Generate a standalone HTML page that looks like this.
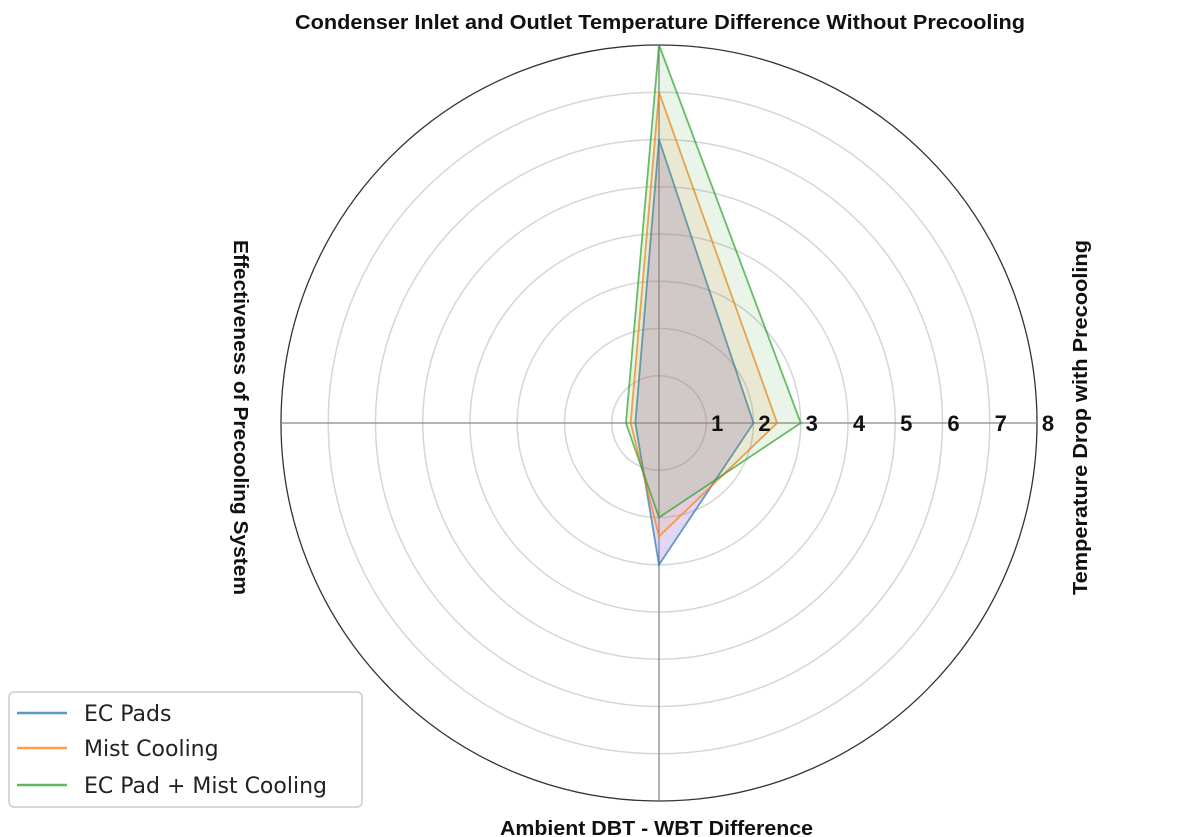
<!DOCTYPE html>
<html><head><meta charset="utf-8">
<style>
html,body{margin:0;padding:0;background:#fff;}
svg{display:block;}
</style></head>
<body>
<svg id="chart" width="1200" height="837" viewBox="0 0 1200 837" xmlns="http://www.w3.org/2000/svg">
<g id="grid"></g>
<g id="series"></g>
<g id="ticks"></g>
<text x="295" y="29" textLength="730" lengthAdjust="spacingAndGlyphs" font-family="Liberation Sans, sans-serif" font-weight="bold" font-size="20" fill="#111">Condenser Inlet and Outlet Temperature Difference Without Precooling</text>
<text x="500" y="835" textLength="313" lengthAdjust="spacingAndGlyphs" font-family="Liberation Sans, sans-serif" font-weight="bold" font-size="20" fill="#111">Ambient DBT - WBT Difference</text>
<text transform="translate(1087,595) rotate(-90)" textLength="355" lengthAdjust="spacingAndGlyphs" font-family="Liberation Sans, sans-serif" font-weight="bold" font-size="20" fill="#111">Temperature Drop with Precooling</text>
<text transform="translate(234,240) rotate(90)" textLength="355" lengthAdjust="spacingAndGlyphs" font-family="Liberation Sans, sans-serif" font-weight="bold" font-size="20" fill="#111">Effectiveness of Precooling System</text>
<g>
<rect x="9" y="692" width="353" height="115" rx="5" fill="#fff" stroke="#ccc" stroke-width="1.5"/>
<g><line x1="17" y1="713" x2="67" y2="713" stroke="#1f77b4" stroke-width="2.5" opacity="0.75"/><text x="84" y="721" font-family="DejaVu Sans, sans-serif" font-size="22" fill="#222">EC Pads</text></g>
<g><line x1="17" y1="748" x2="67" y2="748" stroke="#ff7f0e" stroke-width="2.5" opacity="0.75"/><text x="84" y="756" font-family="DejaVu Sans, sans-serif" font-size="22" fill="#222">Mist Cooling</text></g>
<g><line x1="17" y1="785" x2="67" y2="785" stroke="#2ca02c" stroke-width="2.5" opacity="0.75"/><text x="84" y="793" font-family="DejaVu Sans, sans-serif" font-size="22" fill="#222">EC Pad + Mist Cooling</text></g>
</g>
</svg>
<script>
// order: top, right, bottom, left
const axes = ["Condenser Diff", "Temp Drop", "DBT-WBT", "Effectiveness"];
const ecPads = [6.0, 2.0, 3.0, 0.5];
const mistCooling = [7.0, 2.5, 2.4, 0.6];
const ecMist = [8.0, 3.0, 2.0, 0.7];
const tickLabels = ["1","2","3","4","5","6","7","8"];
const seriesNames = ["ec-pads","mist-cooling","ec-pad-mist"];

const NS = "http://www.w3.org/2000/svg";
const cx = 659, cy = 423, R = 378, maxV = 8;
function r(v){ return v / maxV * R; }
function pt(i, v){
  const ang = -Math.PI/2 + i * Math.PI/2;
  return [cx + r(v)*Math.cos(ang), cy + r(v)*Math.sin(ang)];
}
const grid = document.getElementById('grid');
for (let k = 1; k <= maxV; k++) {
  const c = document.createElementNS(NS, 'circle');
  c.setAttribute('cx', cx); c.setAttribute('cy', cy); c.setAttribute('r', r(k));
  c.setAttribute('fill', 'none');
  c.setAttribute('stroke', k === maxV ? '#333' : '#d6d6d6');
  c.setAttribute('stroke-width', k === maxV ? 1.3 : 1.5);
  
  
  grid.appendChild(c);
}
for (let i = 0; i < axes.length; i++) {
  const [x, y] = pt(i, maxV);
  const l = document.createElementNS(NS, 'line');
  l.setAttribute('x1', cx); l.setAttribute('y1', cy); l.setAttribute('x2', x); l.setAttribute('y2', y);
  l.setAttribute('stroke', '#888'); l.setAttribute('stroke-width', 1.3);
  
  
  grid.appendChild(l);
}
const colors = ["#1f77b4", "#ff7f0e", "#2ca02c"];
const fills = ["rgba(150,110,210,0.28)", "rgba(255,140,60,0.12)", "rgba(44,160,44,0.10)"];
const data = [ecPads, mistCooling, ecMist];
const sg = document.getElementById('series');
data.forEach((vals, s) => {
  const pts = vals.map((v, i) => pt(i, v).join(',')).join(' ');
  const p = document.createElementNS(NS, 'polygon');
  p.setAttribute('points', pts);
  p.setAttribute('fill', fills[s]);
  p.setAttribute('stroke', colors[s]);
  p.setAttribute('stroke-opacity', 0.7);
  p.setAttribute('stroke-width', 1.8);
  
  
  sg.appendChild(p);
});
const tg = document.getElementById('ticks');
tickLabels.forEach((t, k) => {
  const tx = document.createElementNS(NS, 'text');
  tx.setAttribute('x', cx + r(k + 1) + 11);
  tx.setAttribute('y', cy + 8);
  tx.setAttribute('text-anchor', 'middle');
  tx.setAttribute('font-family', 'Liberation Sans, sans-serif');
  tx.setAttribute('font-weight', 'bold');
  tx.setAttribute('font-size', '22');
  tx.setAttribute('fill', '#111');
  
  
  tx.textContent = t;
  tg.appendChild(tx);
});
</script>
</body></html>
